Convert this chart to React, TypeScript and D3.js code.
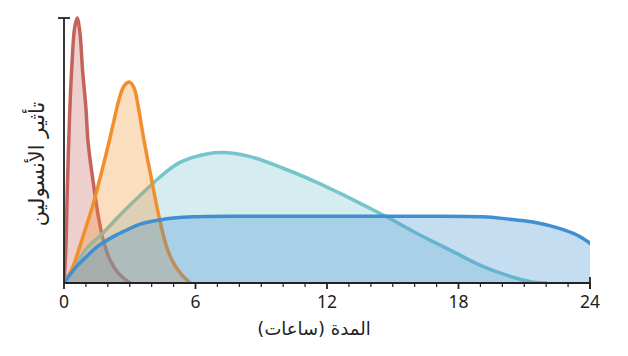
import React from "react";
import * as d3 from "d3";

// Data (hours, relative insulin effect)
const rapidT = [0, 0.08, 0.15, 0.25, 0.36, 0.48, 0.6, 0.72, 0.85, 1.0, 1.1, 1.34, 1.57, 1.79, 2.1, 2.48, 2.86, 3.0];
const rapidV = [0, 0.12, 0.35, 0.62, 0.82, 0.96, 1.0, 0.95, 0.8, 0.66, 0.53, 0.376, 0.25, 0.162, 0.087, 0.037, 0.009, 0];

const regularT = [0, 0.4, 0.73, 1.0, 1.34, 1.72, 2.02, 2.3, 2.5, 2.75, 3.0, 3.2, 3.4, 3.62, 4.0, 4.3, 4.68, 5.0, 5.3, 5.75];
const regularV = [0, 0.06, 0.14, 0.21, 0.3, 0.42, 0.52, 0.62, 0.69, 0.745, 0.758, 0.735, 0.66, 0.552, 0.389, 0.264, 0.137, 0.075, 0.038, 0];

const nphT = [0, 0.5, 1.03, 1.79, 2.6, 3.47, 4.38, 5.29, 6.51, 7.34, 8.49, 10.0, 11.53, 12.6, 13.81, 14.72, 16.09, 17.6, 19.13, 20.65, 21.4, 22.0];
const nphV = [0, 0.065, 0.13, 0.19, 0.26, 0.33, 0.4, 0.455, 0.487, 0.492, 0.477, 0.433, 0.38, 0.338, 0.288, 0.25, 0.188, 0.125, 0.062, 0.018, 0.003, 0];

const longT = [0, 0.5, 1.03, 1.49, 2.25, 2.86, 3.47, 4.38, 5.0, 5.9, 8, 12, 16, 19.1, 20.2, 21.4, 22.6, 23.4, 24];
const longV = [0, 0.055, 0.1, 0.135, 0.175, 0.2, 0.222, 0.238, 0.245, 0.25, 0.252, 0.252, 0.252, 0.25, 0.242, 0.23, 0.206, 0.181, 0.15];

const majorTicks = [0, 6, 12, 18, 24];
const tickLabels = ["0", "6", "12", "18", "24"];

const xTitle = "المدة (ساعات)";
const yTitle = "تأثير الأنسولين";

const seriesList = [
  { t: rapidT, v: rapidV, color: "#c4625c" },
  { t: nphT, v: nphV, color: "#77c5cc" },
  { t: regularT, v: regularV, color: "#f28e2b" },
  { t: longT, v: longV, color: "#3f8fd2" },
];

export default function App() {
  const W = 628, H = 356;
  const x0 = 64, x1 = 590, yTop = 18, yBase = 283;
  const x = d3.scaleLinear().domain([0, 24]).range([x0, x1]);
  const y = d3.scaleLinear().domain([0, 1]).range([yBase, yTop]);
  const curve = d3.curveCatmullRom.alpha(0.5);

  const area = d3.area<[number, number]>()
    .x((d) => x(d[0]))
    .y0(yBase)
    .y1((d) => Math.min(yBase, y(d[1])))
    .curve(curve);
  const line = d3.line<[number, number]>()
    .x((d) => x(d[0]))
    .y((d) => y(d[1]))
    .curve(curve);

  const minor = d3.range(0, 25, 1).filter((h) => majorTicks.indexOf(h) < 0);
  const axisColor = "#222";

  return (
    <svg width={W} height={H} style={{ position: "absolute", left: 0, top: 0, background: "#fff" }}>
      <defs>
        <clipPath id="plotclip">
          <rect x={x0} y={0} width={x1 - x0} height={yBase} />
        </clipPath>
      </defs>
      <g clipPath="url(#plotclip)">
        {seriesList.map((s, i) => {
          const pts: [number, number][] = s.t.map((t, j) => [t, s.v[j]]);
          return (
            <g key={i}>
              <path d={area(pts) || ""} fill={s.color} fillOpacity={0.3} stroke="none" />
              <path d={line(pts) || ""} fill="none" stroke={s.color} strokeWidth={3.5} strokeLinecap="round" strokeLinejoin="round" />
            </g>
          );
        })}
      </g>
      {/* x axis */}
      <line x1={x0} x2={x1} y1={yBase} y2={yBase} stroke={axisColor} strokeWidth={1.8} />
      <line x1={x1} x2={x1} y1={yBase - 6} y2={yBase + 6} stroke={axisColor} strokeWidth={1.8} />
      {majorTicks.map((h) => (
        <line key={"M" + h} x1={x(h)} x2={x(h)} y1={yBase} y2={yBase + 6} stroke={axisColor} strokeWidth={1.8} />
      ))}
      {minor.map((h) => (
        <line key={"m" + h} x1={x(h)} x2={x(h)} y1={yBase} y2={yBase + 4} stroke={axisColor} strokeWidth={1.2} />
      ))}
      {majorTicks.map((h, i) => (
        <text key={"l" + h} x={x(h)} y={308} textAnchor="middle" fontFamily="'Noto Sans', 'Open Sans', sans-serif" fontSize={17.5} fill={axisColor}>
          {tickLabels[i]}
        </text>
      ))}
      {/* y axis */}
      <line x1={x0} x2={x0} y1={yTop} y2={yBase + 0.9} stroke={axisColor} strokeWidth={1.8} />
      <line x1={x0 - 6} x2={x0 + 6} y1={y(1)} y2={y(1)} stroke={axisColor} strokeWidth={1.8} />
      {/* titles */}
      <text x={314} y={335} textAnchor="middle" direction="rtl" fontFamily="'DejaVu Sans', sans-serif" fontSize={18} fill={axisColor}>
        {xTitle}
      </text>
      <text transform="translate(44,164) rotate(-90)" textAnchor="middle" direction="rtl" fontFamily="'DejaVu Sans', sans-serif" fontSize={21} fill={axisColor}>
        {yTitle}
      </text>
    </svg>
  );
}
